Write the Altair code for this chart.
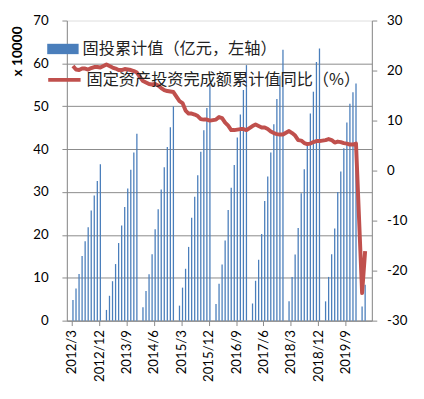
import altair as alt
import pandas as pd

# ---- data ----
month_labels = (["2012/%d" % m for m in range(3, 13)]
                + ["%d/%d" % (y, m) for y in range(2013, 2020) for m in range(2, 13)]
                + ["2020/2", "2020/3"])

inv_2012 = [4.8, 7.5, 10.9, 15.1, 18.5, 21.8, 25.7, 29.2, 32.6, 36.5]
inv_2013 = [2.5, 5.8, 9.2, 13.2, 18.1, 22.2, 26.5, 30.8, 35.2, 39.2, 43.6]
inv_2014 = [3.1, 6.9, 10.8, 15.5, 21.3, 26.0, 30.6, 35.8, 40.5, 45.1, 50.0]
inv_2015 = [3.5, 7.7, 12.1, 17.2, 24.0, 28.9, 33.9, 39.4, 44.4, 49.6, 55.0]
inv_2016 = [3.9, 8.6, 13.1, 18.7, 25.8, 31.0, 36.3, 42.7, 48.1, 53.8, 59.6]
inv_2017 = [4.0, 9.3, 14.2, 20.2, 27.9, 33.6, 39.2, 45.8, 51.7, 57.1, 63.2]
inv_2018 = [4.5, 10.2, 15.4, 21.6, 29.7, 35.3, 41.4, 48.3, 53.4, 60.3, 63.5]
inv_2019 = [4.5, 10.2, 15.5, 21.5, 30.0, 34.8, 40.2, 46.2, 50.6, 53.3, 55.3]
inv_2020 = [3.3, 8.4]

yoy_2012 = [20.9, 20.2, 20.1, 20.4, 20.4, 20.2, 20.5, 20.7, 20.7, 20.6]
yoy_2013 = [21.2, 20.9, 20.6, 20.4, 20.1, 20.1, 20.3, 20.2, 20.1, 19.9, 19.6]
yoy_2014 = [17.9, 17.6, 17.3, 17.2, 17.3, 17.0, 16.5, 16.1, 15.9, 15.8, 15.7]
yoy_2015 = [13.9, 13.5, 12.0, 11.4, 11.4, 11.2, 10.9, 10.3, 10.2, 10.2, 10.0]
yoy_2016 = [10.2, 10.7, 10.5, 9.6, 9.0, 8.1, 8.1, 8.2, 8.3, 8.3, 8.1]
yoy_2017 = [8.9, 9.2, 8.9, 8.6, 8.6, 8.3, 7.8, 7.5, 7.3, 7.2, 7.2]
yoy_2018 = [7.9, 7.5, 7.0, 6.1, 6.0, 5.5, 5.3, 5.4, 5.7, 5.9, 5.9]
yoy_2019 = [6.1, 6.3, 6.1, 5.6, 5.8, 5.7, 5.5, 5.4, 5.2, 5.2, 5.4]
yoy_2020 = [-24.5, -16.1]

tick_labels = ["2012/3", "2012/12", "2013/9", "2014/6", "2015/3", "2015/12",
               "2016/9", "2017/6", "2018/3", "2018/12", "2019/9"]

bar_name = "固投累计值（亿元，左轴）"
line_name = "固定资产投资完成额累计值同比（%）"

invest = (inv_2012 + inv_2013 + inv_2014 + inv_2015 + inv_2016
          + inv_2017 + inv_2018 + inv_2019 + inv_2020)
yoy = (yoy_2012 + yoy_2013 + yoy_2014 + yoy_2015 + yoy_2016
       + yoy_2017 + yoy_2018 + yoy_2019 + yoy_2020)


def month_index(lbl):
    y, m = lbl.split("/")
    return (int(y) - 2012) * 12 + int(m) - 3


df = pd.DataFrame({
    "label": month_labels,
    "idx": [month_index(l) for l in month_labels],
    "invest": invest,
    "yoy": yoy,
    "bar_s": bar_name,
    "line_s": line_name,
})

OFF = 0.4
tick_vals = [month_index(l) - OFF for l in tick_labels]
label_arr = "[" + ",".join("'%s'" % t for t in tick_labels) + "]"
label_expr = label_arr + "[round((datum.value + %s) / 9)]" % OFF

FONT = "Lato"
GRAY = "#8a8a8a"

x_axis = alt.Axis(values=tick_vals, labelExpr=label_expr, title=None, grid=False,
                  labelAngle=-90, labelFont=FONT, labelFontSize=13.5, labelColor="#000",
                  labelOverlap=False, labelBound=False, labelFlush=False,
                  labelSeparation=0,
                  domainColor=GRAY, tickColor=GRAY, tickSize=5, labelPadding=4)
x_scale = alt.Scale(domain=[-OFF, 96.6], nice=False, zero=False)

bars = alt.Chart(df).mark_bar(size=1.3).encode(
    x=alt.X("idx:Q", scale=x_scale, axis=x_axis),
    y=alt.Y("invest:Q",
            scale=alt.Scale(domain=[0, 70], nice=False),
            axis=alt.Axis(values=list(range(0, 71, 10)), title="x 10000",
                          titleFont=FONT, titleFontSize=14, titleFontWeight="bold",
                          titleColor="#000", titleAngle=-90, titleX=-50, titleY=31,
                          titleAlign="center", titleBaseline="middle",
                          labelFont=FONT, labelFontSize=13.5, labelColor="#000",
                          labelPadding=14, tickSize=5, tickColor=GRAY, domainColor=GRAY,
                          grid=True, gridColor=GRAY, gridWidth=1,
                          gridOpacity=alt.condition("datum.value == 70", alt.value(0), alt.value(1)))),
    color=alt.Color("bar_s:N",
                    scale=alt.Scale(domain=[bar_name], range=["#4A7EBB"]),
                    legend=alt.Legend(title=None, orient="none", legendX=-20, legendY=13,
                                      padding=0, symbolType="M-1,-0.33H1V0.33H-1Z",
                                      symbolSize=1024, symbolStrokeWidth=0, symbolOpacity=1,
                                      labelFont="Noto Sans CJK SC", labelFontSize=16.5,
                                      labelColor="#222", labelLimit=400, labelOffset=4)),
)

line = alt.Chart(df).mark_line(strokeWidth=4, strokeJoin="round").encode(
    x=alt.X("idx:Q", scale=x_scale, axis=x_axis),
    y=alt.Y("yoy:Q",
            scale=alt.Scale(domain=[-30, 30], nice=False, zero=False),
            axis=alt.Axis(orient="right", values=list(range(-30, 31, 10)), title=None,
                          labelExpr="'' + datum.value", grid=False,
                          labelFont=FONT, labelFontSize=13.5, labelColor="#000",
                          labelPadding=10, tickSize=5, tickColor=GRAY, domainColor=GRAY)),
    color=alt.Color("line_s:N",
                    scale=alt.Scale(domain=[line_name], range=["#C0504D"]),
                    legend=alt.Legend(title=None, orient="none", legendX=-21, legendY=42,
                                      padding=0, symbolType="stroke", symbolSize=1089,
                                      symbolStrokeWidth=4,
                                      labelFont="Noto Sans CJK SC", labelFontSize=16.5,
                                      labelColor="#222", labelLimit=400, labelOffset=4)),
)

chart = alt.layer(bars, line).resolve_scale(
    y="independent", color="independent"
).resolve_legend(color="independent").properties(
    width=311, height=306,
    autosize=alt.AutoSizeParams(type="none"),
    padding={"left": 60, "top": 9, "right": 45, "bottom": 70},
).configure_view(stroke=None).configure_axis(labelOverlap=False).configure(background="white")

chart.save("out.html", embed_options={"renderer": "svg", "actions": False})
